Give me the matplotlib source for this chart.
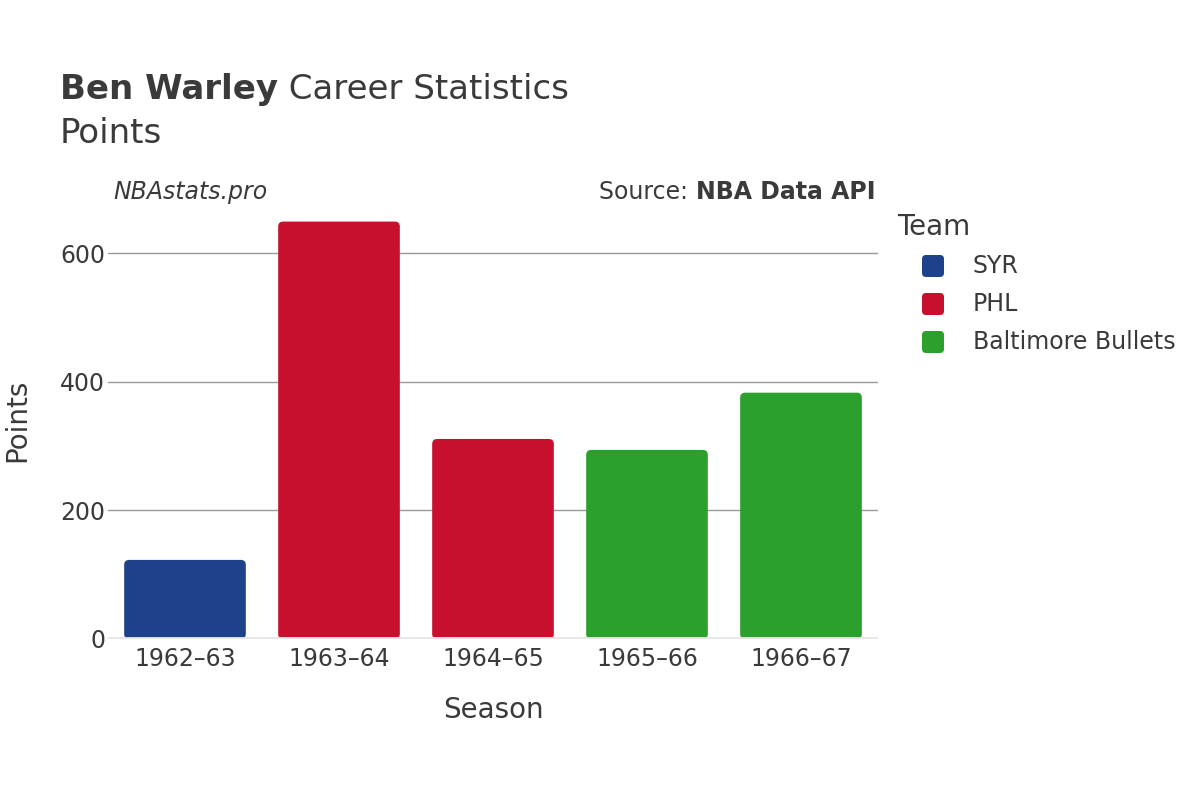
import matplotlib
matplotlib.use('Agg')
import matplotlib.pyplot as plt
from matplotlib.patches import FancyBboxPatch

# ── Data ──
seasons = ["1962–63", "1963–64", "1964–65", "1965–66", "1966–67"]
points = [123, 649, 311, 294, 383]
teams = ["SYR", "PHL", "PHL", "Baltimore Bullets", "Baltimore Bullets"]
team_order = ["SYR", "PHL", "Baltimore Bullets"]
team_colors = {"SYR": "#1D428A", "PHL": "#C8102E", "Baltimore Bullets": "#2CA02C"}

plt.rcParams['font.family'] = ['DejaVu Sans']
TXT = "#3a3a3a"
W, H = 1200, 800

fig = plt.figure(figsize=(12, 8), dpi=100)
ax = fig.add_axes([108 / W, 1 - 639 / H, 770 / W, 429 / H])

x = list(range(len(seasons)))
bars = ax.bar(x, points, 0.79, color=[team_colors[t] for t in teams], zorder=3)

ax.set_xlim(-0.5, len(seasons) - 0.5)
ax.set_ylim(0, 667)

# round the bar corners
xr = len(seasons) / 770
yr = 667 / 429
for b in bars:
    b.set_visible(False)
    p = FancyBboxPatch((b.get_x(), b.get_y()), b.get_width(), b.get_height(),
                       boxstyle=f"round,pad=0,rounding_size={5 * xr}",
                       mutation_aspect=yr / xr,
                       facecolor=b.get_facecolor(), edgecolor="none", zorder=3)
    ax.add_patch(p)

ax.set_yticks([0, 200, 400, 600])
ax.grid(axis="y", color="#999999", linewidth=1, zorder=0)
ax.axhline(0, color="#e6e6e6", linewidth=3.5, zorder=4)
for s in ax.spines.values():
    s.set_visible(False)
ax.tick_params(axis="both", length=0, labelsize=17, labelcolor=TXT)
ax.tick_params(axis="x", pad=6)
ax.tick_params(axis="y", pad=2)
ax.set_xticks(x)
ax.set_xticklabels(seasons)

ax.set_xlabel("Season", fontsize=20, color=TXT, labelpad=18)
fig.text(17 / W, 1 - 420 / H, "Points", fontsize=20, color=TXT, rotation=90,
         ha="center", va="center")

# ── Titles ──
r = fig.canvas.get_renderer()
t1 = fig.text(60 / W, 1 - 99 / H, "Ben Warley", fontsize=24.5, fontweight="bold",
              color=TXT, va="baseline")
bb = t1.get_window_extent(r)
fig.text(bb.x1 / W, 1 - 99 / H, " Career Statistics", fontsize=24.5, color=TXT,
         va="baseline")
fig.text(60 / W, 1 - 143 / H, "Points", fontsize=24.5, color=TXT, va="baseline")

fig.text(113 / W, 1 - 192 / H, "NBAstats.pro", fontsize=17, style="italic", color=TXT,
         va="center")
t2 = fig.text(875 / W, 1 - 192 / H, "NBA Data API", fontsize=17, fontweight="bold",
              color=TXT, va="center", ha="right")
bb = t2.get_window_extent(r)
fig.text(bb.x0 / W, 1 - 192 / H, "Source: ", fontsize=17, color=TXT, va="center",
         ha="right")

# ── Legend ──
fig.text(897 / W, 1 - 227 / H, "Team", fontsize=20, color=TXT, va="center")
for i, t in enumerate(team_order):
    yc = 266 + 38 * i
    sq = FancyBboxPatch(((933 - 11) / W, 1 - (yc + 11) / H), 22 / W, 22 / H,
                        boxstyle=f"round,pad=0,rounding_size={4 / W}",
                        mutation_aspect=W / H, transform=fig.transFigure,
                        facecolor=team_colors[t], edgecolor="none")
    fig.patches.append(sq)
    fig.text(973 / W, 1 - yc / H, t, fontsize=17, color=TXT, va="center")

plt.savefig("out.png")
plt.close()
